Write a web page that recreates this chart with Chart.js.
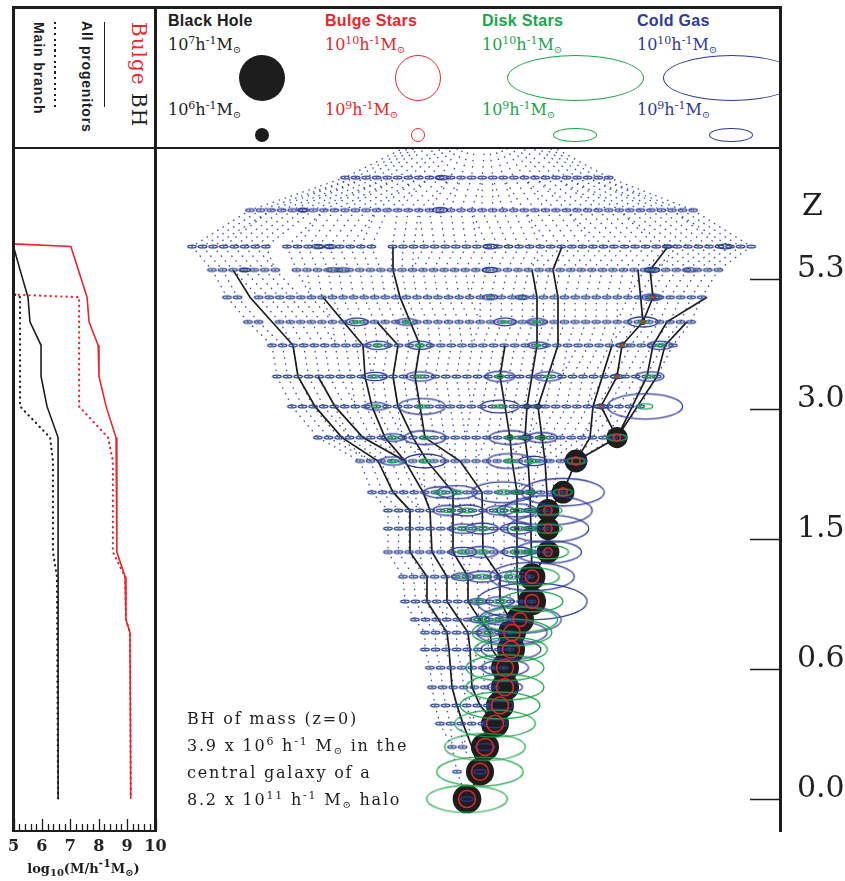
<!DOCTYPE html>
<html>
<head>
<meta charset="utf-8">
<script src="https://cdn.jsdelivr.net/npm/chart.js@4.4.1/dist/chart.umd.min.js"></script>
<style>
  body { margin: 0; background: #fff; width: 845px; height: 881px; position: relative; overflow: hidden; font-family: "DejaVu Serif", serif; color: #1d1d1d; }
  .abs { position: absolute; white-space: nowrap; }
  .rule { position: absolute; background: #1d1d1d; }
  canvas { position: absolute; }
  .sans { font-family: "Liberation Sans", Arial, sans-serif; font-weight: bold; font-size: 16px; line-height: 16px; letter-spacing: 0.3px; }
  .mass { font-family: "DejaVu Serif", serif; font-size: 16px; line-height: 16px; }
  sup { font-size: 11px; vertical-align: 6px; line-height: 0; }
  sub { font-size: 10px; vertical-align: -3px; line-height: 0; }
  .vert { writing-mode: vertical-rl; }
  .shape { position: absolute; box-sizing: border-box; border-radius: 50%; }
</style>
</head>
<body>

<canvas id="left" width="180" height="733" style="left:0;top:148px;width:180px;height:733px"></canvas>
<canvas id="tree" width="690" height="682" style="left:155px;top:148px;width:690px;height:682px"></canvas>

<!-- legend, top left -->
<div class="abs vert" style="left:129px;top:22px;font-size:20px;line-height:20px;letter-spacing:1px"><span style="color:#e8262b">Bulge</span> BH</div>
<div class="abs vert sans" style="left:80px;top:21px;font-size:14px;line-height:14px;letter-spacing:0.8px">All progenitors</div>
<div class="abs vert sans" style="left:32px;top:22px;font-size:14px;line-height:14px;letter-spacing:0.9px">Main branch</div>
<div class="rule" style="left:103.7px;top:22px;width:1.6px;height:85px"></div>
<div class="abs" style="left:54px;top:22px;width:2px;height:85px;background:repeating-linear-gradient(to bottom,#1d1d1d 0 2px,transparent 2px 5.5px)"></div>

<!-- legend, top right -->
<div class="abs" style="left:157px;top:9px;width:622px;height:137px;overflow:hidden">
  <div class="abs sans" style="left:11px;top:4px">Black Hole</div>
  <div class="abs sans" style="left:168px;top:4px;color:#e8262b">Bulge Stars</div>
  <div class="abs sans" style="left:325px;top:4px;color:#1aa64a">Disk Stars</div>
  <div class="abs sans" style="left:480px;top:4px;color:#2f3a99">Cold Gas</div>

  <div class="abs mass" style="left:11px;top:27.5px">10<sup>7</sup>h<sup>-1</sup>M<sub>⊙</sub></div>
  <div class="abs mass" style="left:168px;top:27.5px;color:#e8262b">10<sup>10</sup>h<sup>-1</sup>M<sub>⊙</sub></div>
  <div class="abs mass" style="left:325px;top:27.5px;color:#1aa64a">10<sup>10</sup>h<sup>-1</sup>M<sub>⊙</sub></div>
  <div class="abs mass" style="left:480px;top:27.5px;color:#2f3a99">10<sup>10</sup>h<sup>-1</sup>M<sub>⊙</sub></div>

  <div class="abs mass" style="left:11px;top:92.5px">10<sup>6</sup>h<sup>-1</sup>M<sub>⊙</sub></div>
  <div class="abs mass" style="left:168px;top:92.5px;color:#e8262b">10<sup>9</sup>h<sup>-1</sup>M<sub>⊙</sub></div>
  <div class="abs mass" style="left:325px;top:92.5px;color:#1aa64a">10<sup>9</sup>h<sup>-1</sup>M<sub>⊙</sub></div>
  <div class="abs mass" style="left:480px;top:92.5px;color:#2f3a99">10<sup>9</sup>h<sup>-1</sup>M<sub>⊙</sub></div>

  <div class="shape" style="left:82px;top:46px;width:46px;height:46px;background:#1d1d1d"></div>
  <div class="shape" style="left:97.7px;top:118.7px;width:14.6px;height:14.6px;background:#1d1d1d"></div>
  <div class="shape" style="left:238px;top:46px;width:46px;height:46px;border:1.5px solid #e8262b"></div>
  <div class="shape" style="left:253.7px;top:118.7px;width:14.6px;height:14.6px;border:1.5px solid #e8262b"></div>
  <div class="shape" style="left:349.5px;top:46px;width:137px;height:46px;border:1.5px solid #1aa64a"></div>
  <div class="shape" style="left:396.3px;top:118.7px;width:43.4px;height:14.6px;border:1.5px solid #1aa64a"></div>
  <div class="shape" style="left:505.5px;top:46px;width:137px;height:46px;border:1.5px solid #2f3a99"></div>
  <div class="shape" style="left:552.3px;top:118.7px;width:43.4px;height:14.6px;border:1.5px solid #2f3a99"></div>
</div>

<!-- annotation -->
<div class="abs" style="left:187px;top:705px;font-size:16px;line-height:27px;letter-spacing:1.8px">
  BH of mass (z=0)<br>
  3.9 x 10<sup>6</sup> h<sup>-1</sup> M<sub>⊙</sub> in the<br>
  central galaxy of a<br>
  8.2 x 10<sup>11</sup> h<sup>-1</sup> M<sub>⊙</sub> halo
</div>

<div class="abs" style="left:802px;top:190px;font-size:30px;line-height:30px">Z</div>
<div class="abs" style="left:13px;top:862px;width:141px;text-align:center;font-size:13px;line-height:14px;font-weight:bold">log<sub>10</sub>(M/h<sup>-1</sup>M<sub>⊙</sub>)</div>

<!-- frame -->
<div class="rule" style="left:12px;top:6px;width:769.5px;height:2.5px"></div>
<div class="rule" style="left:12px;top:146.5px;width:769.5px;height:2.5px"></div>
<div class="rule" style="left:12px;top:6px;width:2.5px;height:826px"></div>
<div class="rule" style="left:154.3px;top:6px;width:2.5px;height:826px"></div>
<div class="rule" style="left:779px;top:6px;width:2.5px;height:826px"></div>
<div class="rule" style="left:12px;top:829.5px;width:144.8px;height:2.5px"></div>

<script>
// ---- redshift axis (plot units: one unit per labelled z tick) ----
const zTickPos = [0, 1, 2, 3, 4];
const zTickLabels = ['0.0', '0.6', '1.5', '3.0', '5.3'];

// ---- tree snapshots: vertical position, first node x, node slots ----
const rowPos = [4.78, 4.53, 4.25, 4.07, 3.86, 3.67, 3.49, 3.25, 3.02, 2.78, 2.6, 2.36, 2.22,
                2.08, 1.9, 1.71, 1.52, 1.38, 1.28, 1.15, 1.01, 0.86, 0.72, 0.58, 0.4, 0.21, 0];
const rowStart = [345, 250, 192, 212, 227, 248, 272, 277, 292, 318, 360, 372, 388,
                  388, 388, 403, 405, 415, 425, 425, 430, 432, 435, 440, 452, 457, 467];
const rowSlots = [
  'oooooooooo' + 'oooooooooo' + 'oooooo',
  'oooooooooo' + 'oooooooooo' + 'oooooooooo' + 'oooooooooo' + 'ooo',
  'oooooooo.o' + 'oooooooo.o' + 'oooooooooo' + 'oooooooooo' + 'oooooooooo' + 'oooo',
  'ooooooo.oo' + 'oooooooooo' + 'oooooooooo' + 'oooooooooo' + 'ooooooooo',
  'oo.ooooooo' + 'oooooooooo' + 'oooooooooo' + 'oooooooooo' + 'oooooo',
  'oo.ooooooo' + 'oooooooooo' + 'oooooooooo' + 'oooooooooo' + 'ooo',
  'oooooooooo' + 'oooooooooo' + 'oooooooooo' + 'ooooooooo',
  'oooooooooo' + 'oooooooooo' + 'oooooooooo' + 'ooooooo',
  'oooooooooo' + 'oooooooooo' + 'oooooooooo' + 'oooo',
  'oooooooooo' + 'oooooooooo' + 'ooooooooo',
  'oooooooooo' + 'oooooooooo',
  'oooooooooo' + 'ooooooooo',
  'oooooooooo' + 'oooooo',
  'oooooooooo' + 'oooooo',
  'oooooooooo' + 'oooooo',
  'oooooooooo' + 'ooo',
  'oooooooooo' + 'ooo',
  'oooooooooo',
  'ooooooooo',
  'ooooooooo',
  'oooooooo',
  'ooooooo',
  'oooooo',
  'ooooo',
  'oo',
  'o',
  ''
];
const slotWidth = 10.55;
// progenitors above the plotted range (off the top edge)
const apexPos = 5.25;
const apexX = [467, 477, 487, 497];
// typical small halo: log10 cold gas and disk mass
const tinyGas = 7.58;
const tinyDisk = 6.7;

// ---- main branch: [row, x, logGas, logDisk, logBulge, logBH] ----
const mainBranch = [
  [2, 668, 7.6, 6.8, null, null], [3, 650, 7.7, 6.9, null, null], [4, 653, 7.9, 7.0, 7.31, 5.23],
  [5, 643, 8.68, 7.5, 7.31, 5.23], [6, 622, 7.9, 7.2, 7.31, 5.23], [7, 617, 7.9, 7.2, 7.31, 5.23],
  [8, 601, 7.9, 7.2, 7.31, 5.23], [9, 617, 8.19, 8.33, 8.33, 6.33], [10, 576, 8.4, 8.24, 8.5, 6.39],
  [11, 563, 9.56, 8.3, 8.5, 6.39], [12, 548, 9.62, 8.62, 8.5, 6.39], [13, 548, 9.55, 8.62, 8.5, 6.39],
  [14, 548, 9.38, 8.95, 8.5, 6.39], [15, 532, 9.58, 9.2, 8.93, 6.53], [16, 532, 9.81, 9.31, 8.96, 6.57],
  [17, 520, 9.56, 9.48, 8.96, 6.57], [18, 512, 9.42, 9.53, 9.1, 6.57], [19, 511, 9.28, 9.45, 9.13, 6.57],
  [20, 505, 9.07, 9.51, 9.13, 6.57], [21, 505, 8.81, 9.51, 9.13, 6.57], [22, 500, 8.59, 9.53, 9.13, 6.57],
  [23, 495, 8.52, 9.54, 9.13, 6.57], [24, 485, 8.33, 9.54, 9.13, 6.57], [25, 480, 7.88, 9.6, 9.13, 6.57],
  [26, 467, 7.95, 9.54, 9.13, 6.59]
];

// ---- other notable galaxies: [row, x, logGas, logDisk, logBH] ----
const satellites = [
  [0, 442, 7.95, null, null], [1, 440, 8.08, null, null], [1, 303, 7.8, null, null],
  [2, 318, 7.9, 6.8, null], [2, 330, 7.9, 6.8, null], [2, 490, 8.0, 6.8, null], [2, 725, 8.0, 6.8, null],
  [3, 245, 7.8, 6.8, null], [3, 333, 7.9, 6.8, null], [3, 343, 7.9, 6.8, null], [3, 490, 8.08, 6.8, null],
  [3, 652, 8.08, 6.8, null], [3, 690, 7.9, 6.8, null],
  [4, 490, 8.08, 6.9, null], [4, 522, 7.95, 6.9, null], [4, 652, 8.33, 7.2, null],
  [5, 357, 8.45, 7.5, null], [5, 407, 8.33, 7.3, null], [5, 505, 8.45, 7.3, null], [5, 537, 8.33, 7.3, null],
  [6, 378, 8.52, 7.6, null], [6, 420, 8.5, 7.6, null], [6, 538, 8.33, 7.3, null], [6, 660, 8.52, 7.6, null],
  [7, 375, 8.52, 7.6, null], [7, 420, 8.62, 7.6, null], [7, 500, 8.68, 7.6, 5.2], [7, 548, 8.6, 7.5, null],
  [7, 650, 8.62, 7.7, null],
  [8, 376, 8.45, 7.5, null], [8, 422, 9.07, 7.7, null], [8, 500, 8.9, 7.7, null], [8, 527, 7.6, 7.0, 5.2],
  [8, 538, 7.6, 7.0, 5.2], [8, 645, 9.48, 8.1, null],
  [9, 393, 8.45, 7.7, null], [9, 425, 8.97, 7.7, null], [9, 510, 8.97, 7.7, 5.3], [9, 525, 7.8, 7.3, 5.3],
  [9, 542, 8.68, 7.7, 5.3],
  [10, 393, 8.52, 7.7, null], [10, 425, 8.97, 7.8, null], [10, 510, 9.03, 7.8, null], [10, 533, 8.62, 7.8, null],
  [11, 440, 8.76, 7.9, null], [11, 457, 8.93, 7.9, null], [11, 503, 9.32, 8.0, null], [11, 517, 7.9, 7.5, 5.1],
  [11, 530, 7.9, 7.5, 5.1],
  [12, 448, 8.68, 7.9, null], [12, 467, 8.76, 8.0, null], [12, 500, 8.62, 8.0, null], [12, 517, 8.93, 8.0, 5.1],
  [12, 530, 7.9, 7.5, 5.1],
  [13, 463, 8.62, 7.9, null], [13, 482, 8.76, 8.0, null], [13, 517, 8.76, 8.0, 5.1], [13, 530, 7.9, 7.5, 5.1],
  [14, 463, 8.62, 7.9, null], [14, 482, 8.76, 8.0, null], [14, 517, 8.68, 8.0, 5.1], [14, 530, 7.9, 7.5, 5.1],
  [15, 463, 8.45, 7.9, null], [15, 482, 8.76, 8.0, null], [15, 513, 8.76, 8.0, null],
  [16, 478, 8.2, 7.9, null], [16, 500, 8.62, 8.0, null],
  [17, 480, 8.33, 7.9, null], [17, 500, 8.68, 8.0, null],
  [18, 488, 8.45, 7.9, null]
];

// ---- black hole progenitor branches: [row, x] ----
const bhBranches = [
  [[2, 668], [3, 650], [4, 653], [5, 643], [6, 622], [7, 617], [8, 601], [9, 617], [10, 576], [11, 563],
   [12, 548], [14, 548], [15, 532], [16, 532], [17, 520], [18, 512], [19, 511], [20, 505], [21, 505],
   [22, 500], [23, 495], [24, 485], [25, 480], [26, 467]],
  [[3, 233], [4, 250], [6, 293], [7, 298], [8, 315], [9, 342], [10, 378], [11, 393], [12, 410], [14, 410],
   [15, 427], [16, 427], [18, 447], [19, 449], [21, 452], [22, 457], [23, 463], [24, 472], [25, 480]],
  [[4, 323], [6, 363], [7, 365], [8, 372], [9, 385], [10, 405], [11, 423], [12, 430], [14, 432], [15, 447],
   [16, 447], [18, 468], [19, 470], [21, 472], [22, 480], [23, 495]],
  [[7, 318], [8, 335], [9, 363], [10, 405]],
  [[5, 377], [6, 398], [7, 393], [8, 398], [9, 413], [10, 427], [11, 453], [14, 453], [15, 468], [16, 468],
   [17, 480], [18, 490], [19, 492], [20, 505]],
  [[2, 393], [3, 393], [4, 400], [6, 420], [7, 415], [8, 420], [9, 425], [10, 460], [11, 482], [14, 483],
   [15, 500], [16, 500], [17, 510], [18, 512]],
  [[6, 505], [7, 500], [8, 505], [9, 510], [10, 512], [11, 517], [15, 517], [17, 520]],
  [[3, 532], [4, 537], [6, 537], [8, 527], [9, 525], [10, 528], [11, 530], [15, 532]],
  [[2, 562], [3, 553], [4, 558], [6, 558], [8, 538], [9, 542], [10, 545], [12, 548]],
  [[6, 612], [8, 593], [9, 590], [10, 576]],
  [[4, 707], [5, 667], [6, 653], [7, 647], [9, 617]],
  [[5, 687], [6, 665], [7, 657], [9, 617]],
  [[3, 638], [5, 643]]
];

// ---- left panel: log10 mass against the same vertical axis ----
const bulgeAllPos  = [4.27, 4.25, 3.86, 3.67, 3.49, 3.25, 3.02, 2.78, 1.9, 1.71, 1.38, 1.28, 0];
const bulgeAllMass = [5.0, 7.02, 7.59, 7.66, 7.98, 8.01, 8.26, 8.61, 8.64, 8.93, 8.96, 9.10, 9.13];
const bulgeMainPos  = [3.88, 3.86, 3.02, 2.78, 2.6, 1.9, 1.71, 1.38, 1.28, 0];
const bulgeMainMass = [5.0, 7.31, 7.31, 8.33, 8.5, 8.5, 8.93, 8.96, 9.1, 9.13];
const bhAllPos  = [4.25, 4.07, 3.86, 3.67, 3.49, 3.25, 3.02, 2.78, 0];
const bhAllMass = [5.0, 5.23, 5.51, 5.58, 5.97, 5.97, 6.18, 6.57, 6.57];
const bhMainPos  = [3.88, 3.86, 3.02, 2.78, 2.6, 1.9, 1.71, 0];
const bhMainMass = [5.05, 5.23, 5.23, 6.29, 6.39, 6.39, 6.53, 6.57];

const RED = '#e8262b', GREEN = '#1aa64a', BLUE = '#2f3a99', INK = '#1d1d1d';
const yMin = -0.2385, yMax = 5.0077;

// marker sizes follow the legend: diameter grows as sqrt(mass)
const gasWidth = m => 137 * Math.pow(10, (m - 10) / 2);
const bulgeRadius = m => 23 * Math.pow(10, (m - 10) / 2);
const bhRadius = m => 23 * Math.pow(10, (m - 7) / 2);

const styleCache = {};
function ellipseStyle(w, color) {
  w = Math.max(w, 2);
  const key = color + w.toFixed(1);
  if (styleCache[key]) return styleCache[key];
  const h = w / 3;
  const c = document.createElement('canvas');
  c.width = Math.ceil(w + 4);
  c.height = Math.ceil(h + 4);
  const g = c.getContext('2d');
  g.beginPath();
  g.ellipse(c.width / 2, c.height / 2, w / 2, h / 2, 0, 0, Math.PI * 2);
  if (w < 5) {
    g.fillStyle = color;
    g.fill();
  } else {
    g.strokeStyle = color;
    g.lineWidth = w < 12 ? 1.4 : 1.3;
    g.stroke();
  }
  styleCache[key] = c;
  return c;
}

// ---- build tree marks ----
const gasPts = [], diskPts = [], bulgePts = [], bhPts = [];

const rowsX = rowSlots.map((slots, r) => {
  const xs = [];
  for (let i = 0; i < slots.length; i++) {
    if (slots[i] === 'o') xs.push(rowStart[r] + i * slotWidth);
  }
  xs.forEach(x => {
    gasPts.push({ x, y: rowPos[r], m: tinyGas });
    if (r >= 2) diskPts.push({ x, y: rowPos[r], m: tinyDisk });
  });
  const main = mainBranch.find(b => b[0] === r);
  if (main && (!xs.length || main[1] > xs[xs.length - 1] + 4)) xs.push(main[1]);
  return xs;
});

satellites.forEach(([r, x, gas, disk, bh]) => {
  if (bh != null) bhPts.push({ x, y: rowPos[r], m: bh });
  if (gas != null) gasPts.push({ x, y: rowPos[r], m: gas });
  if (disk != null) diskPts.push({ x, y: rowPos[r], m: disk });
});
mainBranch.forEach(([r, x, gas, disk, bulge, bh]) => {
  if (bh != null) bhPts.push({ x, y: rowPos[r], m: bh });
  if (gas != null) gasPts.push({ x, y: rowPos[r], m: gas });
  if (disk != null) diskPts.push({ x, y: rowPos[r], m: disk });
  if (bulge != null) bulgePts.push({ x, y: rowPos[r], m: bulge });
});

// dotted links: each progenitor to its descendant one snapshot later
const links = [];
const levels = [{ xs: apexX, y: apexPos }].concat(rowsX.map((xs, r) => ({ xs, y: rowPos[r] })));
for (let l = 0; l < levels.length - 1; l++) {
  const up = levels[l], down = levels[l + 1];
  const n = up.xs.length, m = down.xs.length;
  if (!n || !m) continue;
  const hit = new Array(m).fill(false);
  if (l > 0) {
    up.xs.forEach((x, j) => {
      const k = Math.round(j * (m - 1) / Math.max(n - 1, 1));
      hit[k] = true;
      links.push({ x, y: up.y }, { x: down.xs[k], y: down.y }, { x, y: null });
    });
  }
  down.xs.forEach((x, k) => {
    if (hit[k]) return;
    const j = Math.round(k * (n - 1) / Math.max(m - 1, 1));
    links.push({ x: up.xs[j], y: up.y }, { x, y: down.y }, { x, y: null });
  });
}

const branchPts = [];
bhBranches.forEach(br => {
  br.forEach(([r, x]) => branchPts.push({ x, y: rowPos[r] }));
  branchPts.push({ x: br[br.length - 1][1], y: null });
});

const zTicks = {
  id: 'zTicks',
  afterDraw(chart) {
    const { ctx, chartArea: a, scales: { y } } = chart;
    ctx.save();
    ctx.strokeStyle = INK;
    ctx.lineWidth = 1.5;
    zTickPos.forEach(v => {
      const py = Math.round(y.getPixelForValue(v)) + 0.5;
      ctx.beginPath();
      ctx.moveTo(a.right, py);
      ctx.lineTo(a.right + 30, py);
      ctx.stroke();
    });
    ctx.restore();
  }
};

new Chart(document.getElementById('tree'), {
  type: 'scatter',
  data: {
    datasets: [
      { data: bulgePts, order: 1, clip: false, pointRadius: c => bulgeRadius(bulgePts[c.dataIndex] ? bulgePts[c.dataIndex].m : 9),
        pointBackgroundColor: 'rgba(0,0,0,0)', pointBorderColor: RED, pointBorderWidth: 1.5 },
      { data: diskPts, order: 2, clip: false, pointRadius: 1,
        pointStyle: c => diskPts[c.dataIndex] ? ellipseStyle(gasWidth(diskPts[c.dataIndex].m), GREEN) : 'circle' },
      { data: gasPts, order: 3, clip: false, pointRadius: 1,
        pointStyle: c => gasPts[c.dataIndex] ? ellipseStyle(gasWidth(gasPts[c.dataIndex].m), BLUE) : 'circle' },
      { data: bhPts, order: 4, clip: false, pointRadius: c => bhRadius(bhPts[c.dataIndex] ? bhPts[c.dataIndex].m : 6),
        pointBackgroundColor: INK, pointBorderWidth: 0 },
      { data: branchPts, order: 5, showLine: true, spanGaps: false, borderColor: INK, borderWidth: 1.7,
        pointRadius: 0 },
      { data: links, order: 6, showLine: true, spanGaps: false, borderColor: '#3a46a6', borderWidth: 1.4,
        borderDash: [0.3, 6], borderCapStyle: 'round', pointRadius: 0 }
    ]
  },
  options: {
    animation: false,
    responsive: false,
    events: [],
    layout: { padding: 0, autoPadding: false },
    plugins: { legend: { display: false }, tooltip: { enabled: false } },
    scales: {
      x: { type: 'linear', display: false, min: 155, max: 750 },
      y: {
        type: 'linear', position: 'right', min: yMin, max: yMax,
        grid: { display: false, drawTicks: false }, border: { display: false },
        afterBuildTicks: s => { s.ticks = zTickPos.map(v => ({ value: v })); },
        afterFit: s => { s.width = 95; s.paddingTop = 0; s.paddingBottom = 0; },
        ticks: {
          autoSkip: false, padding: 47, labelOffset: -10, color: '#222',
          font: { family: 'DejaVu Serif', size: 30 },
          callback: (v, i) => zTickLabels[i]
        }
      }
    }
  },
  plugins: [zTicks]
});

// ---- left panel ----
const pairs = (pos, mass) => pos.map((p, i) => ({ x: mass[i], y: p }));

const massTicks = {
  id: 'massTicks',
  afterDraw(chart) {
    const { ctx, chartArea: a, scales: { x } } = chart;
    ctx.save();
    ctx.strokeStyle = INK;
    ctx.lineWidth = 1.3;
    for (let k = 50; k <= 100; k += 2) {
      const px = Math.round(x.getPixelForValue(k / 10)) + 0.5;
      const len = k % 10 === 0 ? 11 : 6;
      ctx.beginPath();
      ctx.moveTo(px, a.bottom);
      ctx.lineTo(px, a.bottom - len);
      ctx.stroke();
    }
    ctx.restore();
  }
};

new Chart(document.getElementById('left'), {
  type: 'scatter',
  data: {
    datasets: [
      { data: pairs(bulgeAllPos, bulgeAllMass), showLine: true, borderColor: RED, borderWidth: 1.6, pointRadius: 0 },
      { data: pairs(bulgeMainPos, bulgeMainMass), showLine: true, borderColor: RED, borderWidth: 2.2,
        borderDash: [0.3, 5], borderCapStyle: 'round', pointRadius: 0 },
      { data: pairs(bhAllPos, bhAllMass), showLine: true, borderColor: INK, borderWidth: 1.6, pointRadius: 0 },
      { data: pairs(bhMainPos, bhMainMass), showLine: true, borderColor: INK, borderWidth: 2.2,
        borderDash: [0.3, 5], borderCapStyle: 'round', pointRadius: 0 }
    ]
  },
  options: {
    animation: false,
    responsive: false,
    events: [],
    layout: { padding: { left: 13.5, right: 24.5, top: 0, bottom: 0 }, autoPadding: false },
    plugins: { legend: { display: false }, tooltip: { enabled: false } },
    scales: {
      x: {
        type: 'linear', min: 5, max: 10,
        grid: { display: false, drawTicks: false }, border: { display: false },
        afterFit: s => { s.height = 51; },
        ticks: { stepSize: 1, padding: 7, color: '#222', font: { family: 'DejaVu Serif', size: 16, weight: 'bold' } }
      },
      y: { type: 'linear', display: false, min: yMin, max: yMax }
    }
  },
  plugins: [massTicks]
});
</script>
</body>
</html>
